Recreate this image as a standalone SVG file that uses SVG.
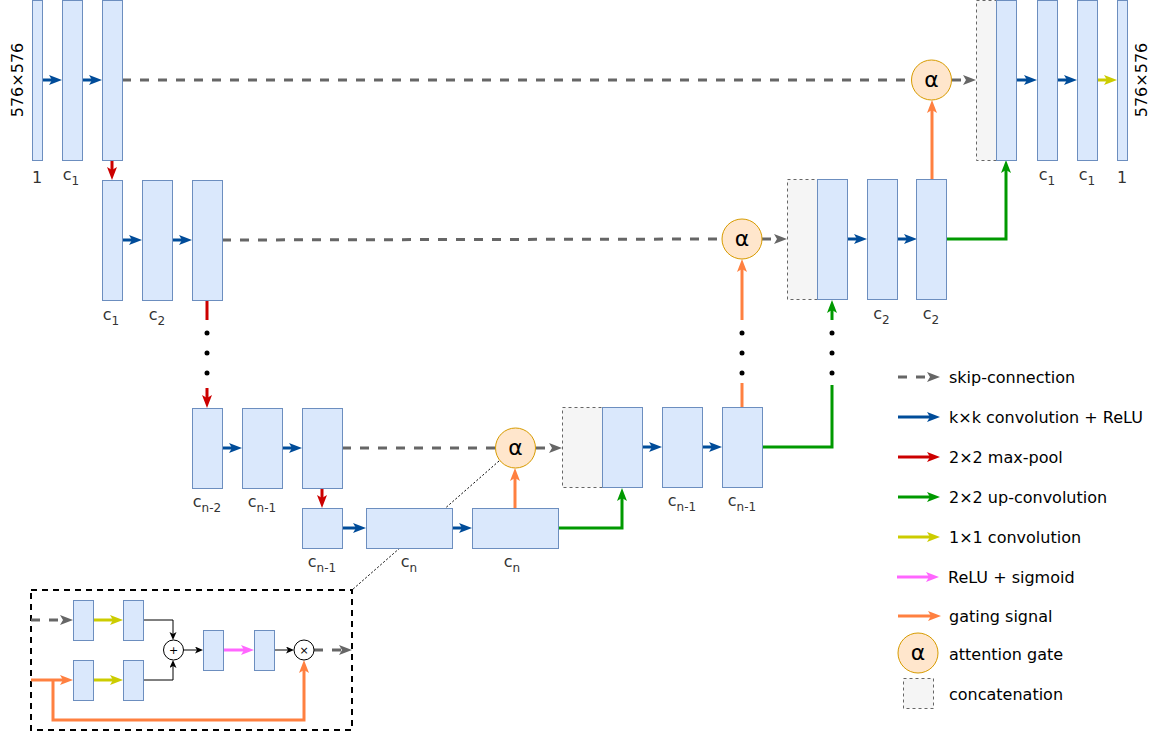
<svg xmlns="http://www.w3.org/2000/svg" width="1158" height="732" viewBox="0 0 1158 732">
<style>
.b{fill:#dae8fc;stroke:#6c8ebf;stroke-width:1}
.cc{fill:#f5f5f5;stroke:#666;stroke-width:1;stroke-dasharray:3 3}
.ag{fill:#ffe6cc;stroke:#d79b00;stroke-width:1}
.at{font-family:"DejaVu Sans",Verdana,sans-serif;font-size:22px;fill:#000;text-anchor:middle}
.lb{font-family:"DejaVu Sans",Verdana,sans-serif;font-size:16px;fill:#333;text-anchor:middle}
.lg{font-family:"DejaVu Sans",Verdana,sans-serif;font-size:16px;fill:#000}
.sub{font-size:12px}
.c{fill:none;stroke-width:3}
.blue{stroke:#004c99}
.red{stroke:#cc0000}
.green{stroke:#009900}
.yel{stroke:#cccc00}
.mag{stroke:#ff66ff}
.ora{stroke:#ff8040}
.gray{stroke:#666;stroke-dasharray:9 9}
.blk{fill:none;stroke:#000;stroke-width:1}
.dot{fill:#000}
</style>
<defs>
<marker id="mb" markerUnits="userSpaceOnUse" markerWidth="14" markerHeight="11" refX="3" refY="5" orient="auto"><path d="M0,0 L13,5 L0,10 L3,5 z" fill="#004c99"/></marker>
<marker id="mr" markerUnits="userSpaceOnUse" markerWidth="14" markerHeight="11" refX="3" refY="5" orient="auto"><path d="M0,0 L13,5 L0,10 L3,5 z" fill="#cc0000"/></marker>
<marker id="mg" markerUnits="userSpaceOnUse" markerWidth="14" markerHeight="11" refX="3" refY="5" orient="auto"><path d="M0,0 L13,5 L0,10 L3,5 z" fill="#009900"/></marker>
<marker id="my" markerUnits="userSpaceOnUse" markerWidth="14" markerHeight="11" refX="3" refY="5" orient="auto"><path d="M0,0 L13,5 L0,10 L3,5 z" fill="#cccc00"/></marker>
<marker id="mm" markerUnits="userSpaceOnUse" markerWidth="14" markerHeight="11" refX="3" refY="5" orient="auto"><path d="M0,0 L13,5 L0,10 L3,5 z" fill="#ff66ff"/></marker>
<marker id="mo" markerUnits="userSpaceOnUse" markerWidth="14" markerHeight="11" refX="3" refY="5" orient="auto"><path d="M0,0 L13,5 L0,10 L3,5 z" fill="#ff8040"/></marker>
<marker id="mgr" markerUnits="userSpaceOnUse" markerWidth="14" markerHeight="11" refX="3" refY="5" orient="auto"><path d="M0,0 L13,5 L0,10 L3,5 z" fill="#666"/></marker>
<marker id="mk" markerUnits="userSpaceOnUse" markerWidth="9" markerHeight="8" refX="2" refY="3.5" orient="auto"><path d="M0,0 L8,3.5 L0,7 L2,3.5 z" fill="#000"/></marker>
</defs>

<g id="connectors">
<!-- row 1 -->
<path class="c blue" d="M42,80 H52" marker-end="url(#mb)"/>
<path class="c blue" d="M82,80 H92" marker-end="url(#mb)"/>
<path class="c red" d="M112,160 V170" marker-end="url(#mr)"/>
<path class="c gray" d="M122,80 H911"/>
<path class="c gray" d="M952,80 H966" marker-end="url(#mgr)"/>
<path class="c blue" d="M1017,80 H1027" marker-end="url(#mb)"/>
<path class="c blue" d="M1057,80 H1067" marker-end="url(#mb)"/>
<path class="c yel" d="M1097,80 H1107" marker-end="url(#my)"/>
<path class="c ora" d="M932,180 V110" marker-end="url(#mo)"/>
<path class="c green" d="M947,239 H1006 V170" marker-end="url(#mg)"/>
<!-- row 2 -->
<path class="c blue" d="M122,240 H132" marker-end="url(#mb)"/>
<path class="c blue" d="M172,240 H182" marker-end="url(#mb)"/>
<path class="c gray" d="M222,240 L722,239"/>
<path class="c gray" d="M762,239 H777" marker-end="url(#mgr)"/>
<path class="c blue" d="M847,239 H857" marker-end="url(#mb)"/>
<path class="c blue" d="M897,239 H907" marker-end="url(#mb)"/>
<path class="c red" d="M207,300 V320"/>
<path class="c red" d="M207,388 V398" marker-end="url(#mr)"/>
<path class="c ora" d="M742,320 V269" marker-end="url(#mo)"/>
<path class="c ora" d="M742,407 V383"/>
<path class="c green" d="M832,320 V310" marker-end="url(#mg)"/>
<path class="c green" d="M762,447 H832 V385"/>
<!-- row 3 -->
<path class="c blue" d="M222,448 H232" marker-end="url(#mb)"/>
<path class="c blue" d="M282,448 H292" marker-end="url(#mb)"/>
<path class="c red" d="M322,488 V498" marker-end="url(#mr)"/>
<path class="c gray" d="M342,448 H496"/>
<path class="c gray" d="M536,448 H552" marker-end="url(#mgr)"/>
<path class="c blue" d="M642,447 H652" marker-end="url(#mb)"/>
<path class="c blue" d="M702,447 H712" marker-end="url(#mb)"/>
<!-- row 4 -->
<path class="c blue" d="M342,528 H356" marker-end="url(#mb)"/>
<path class="c blue" d="M452,528 H462" marker-end="url(#mb)"/>
<path class="c ora" d="M515,508 V478" marker-end="url(#mo)"/>
<path class="c green" d="M558,528 H622 V498" marker-end="url(#mg)"/>
<!-- zoom line -->
<path d="M499,461 L352,590" fill="none" stroke="#000" stroke-width="1" stroke-dasharray="2 2"/>
</g>

<g id="dots">
<circle class="dot" cx="207" cy="333" r="2.5"/><circle class="dot" cx="207" cy="353" r="2.5"/><circle class="dot" cx="207" cy="373" r="2.5"/>
<circle class="dot" cx="742" cy="333" r="2.5"/><circle class="dot" cx="742" cy="353" r="2.5"/><circle class="dot" cx="742" cy="373" r="2.5"/>
<circle class="dot" cx="832" cy="333" r="2.5"/><circle class="dot" cx="832" cy="353" r="2.5"/><circle class="dot" cx="832" cy="373" r="2.5"/>
</g>

<!-- row 1 nodes -->
<g id="n1a"><rect class="b" x="32.5" y="0.5" width="10" height="160"/><text class="lb" x="37" y="183">1</text></g>
<g id="n1b"><rect class="b" x="62.5" y="0.5" width="20" height="160"/><text class="lb" x="71" y="180">c<tspan class="sub" dy="5">1</tspan></text></g>
<g id="n1c"><rect class="b" x="102.5" y="0.5" width="20" height="160"/></g>
<g id="in1"><text class="lb" transform="translate(23,80) rotate(-90)" style="fill:#000">576×576</text></g>
<g id="cat1"><rect class="cc" x="976.5" y="0.5" width="20" height="160"/></g>
<g id="n1d"><rect class="b" x="996.5" y="0.5" width="20" height="160"/></g>
<g id="n1e"><rect class="b" x="1037.5" y="0.5" width="20" height="160"/><text class="lb" x="1047" y="180">c<tspan class="sub" dy="5">1</tspan></text></g>
<g id="n1f"><rect class="b" x="1077.5" y="0.5" width="20" height="160"/><text class="lb" x="1087" y="180">c<tspan class="sub" dy="5">1</tspan></text></g>
<g id="n1g"><rect class="b" x="1117.5" y="0.5" width="10" height="160"/><text class="lb" x="1122" y="183">1</text></g>
<g id="out1"><text class="lb" transform="translate(1147,80) rotate(-90)" style="fill:#000">576×576</text></g>
<g id="ag1"><circle class="ag" cx="931.5" cy="80" r="20"/><text class="at" x="931.5" y="87">α</text></g>

<!-- row 2 nodes -->
<g id="n2a"><rect class="b" x="102.5" y="180.5" width="20" height="120"/><text class="lb" x="111" y="320">c<tspan class="sub" dy="5">1</tspan></text></g>
<g id="n2b"><rect class="b" x="142.5" y="180.5" width="30" height="120"/><text class="lb" x="157" y="320">c<tspan class="sub" dy="5">2</tspan></text></g>
<g id="n2c"><rect class="b" x="192.5" y="180.5" width="30" height="120"/></g>
<g id="ag2"><circle class="ag" cx="742" cy="239" r="20"/><text class="at" x="742" y="246">α</text></g>
<g id="cat2"><rect class="cc" x="787.5" y="179.5" width="30" height="120"/></g>
<g id="n2d"><rect class="b" x="817.5" y="179.5" width="30" height="120"/></g>
<g id="n2e"><rect class="b" x="867.5" y="179.5" width="30" height="120"/><text class="lb" x="881.5" y="319">c<tspan class="sub" dy="5">2</tspan></text></g>
<g id="n2f"><rect class="b" x="916.5" y="179.5" width="30" height="120"/><text class="lb" x="931" y="319">c<tspan class="sub" dy="5">2</tspan></text></g>

<!-- row 3 nodes -->
<g id="n3a"><rect class="b" x="192.5" y="408.5" width="30" height="80"/><text class="lb" x="207" y="507">c<tspan class="sub" dy="5">n-2</tspan></text></g>
<g id="n3b"><rect class="b" x="242.5" y="408.5" width="40" height="80"/><text class="lb" x="262" y="507">c<tspan class="sub" dy="5">n-1</tspan></text></g>
<g id="n3c"><rect class="b" x="302.5" y="408.5" width="40" height="80"/></g>
<g id="ag3"><circle class="ag" cx="515.5" cy="448" r="20"/><text class="at" x="515.5" y="455">α</text></g>
<g id="cat3"><rect class="cc" x="562.5" y="407.5" width="40" height="80"/></g>
<g id="n3d"><rect class="b" x="602.5" y="407.5" width="40" height="80"/></g>
<g id="n3e"><rect class="b" x="662.5" y="407.5" width="40" height="80"/><text class="lb" x="682" y="506">c<tspan class="sub" dy="5">n-1</tspan></text></g>
<g id="n3f"><rect class="b" x="722.5" y="407.5" width="40" height="80"/><text class="lb" x="742" y="506">c<tspan class="sub" dy="5">n-1</tspan></text></g>

<!-- row 4 nodes -->
<g id="n4a"><rect class="b" x="302.5" y="508.5" width="40" height="40"/><text class="lb" x="322" y="567">c<tspan class="sub" dy="5">n-1</tspan></text></g>
<g id="n4b"><rect class="b" x="366.5" y="508.5" width="86" height="40"/><text class="lb" x="409" y="567">c<tspan class="sub" dy="5">n</tspan></text></g>
<g id="n4c"><rect class="b" x="472.5" y="508.5" width="86" height="40"/><text class="lb" x="512" y="567">c<tspan class="sub" dy="5">n</tspan></text></g>

<!-- inset: attention gate detail -->
<g id="inset">
<rect x="31" y="590" width="321" height="140" fill="none" stroke="#000" stroke-width="2" stroke-dasharray="6 5"/>
<path class="c gray" d="M31,620 H63" marker-end="url(#mgr)"/>
<path class="c yel" d="M93,620 H113" marker-end="url(#my)"/>
<path class="c yel" d="M93,680 H113" marker-end="url(#my)"/>
<path class="blk" d="M143,620 H173 V634" marker-end="url(#mk)"/>
<path class="blk" d="M143,680 H173 V666" marker-end="url(#mk)"/>
<path class="blk" d="M183,650 H197" marker-end="url(#mk)"/>
<path class="c mag" d="M223,650 H244" marker-end="url(#mm)"/>
<path class="blk" d="M274,650 H288" marker-end="url(#mk)"/>
<path class="c gray" d="M314,650 H342" marker-end="url(#mgr)"/>
<path class="c ora" d="M31,680 H63" marker-end="url(#mo)"/>
<path class="c ora" d="M53,680 V720 H304 V670" marker-end="url(#mo)"/>
<rect class="b" x="73.5" y="600.5" width="20" height="40"/>
<rect class="b" x="123.5" y="600.5" width="20" height="40"/>
<rect class="b" x="73.5" y="660.5" width="20" height="40"/>
<rect class="b" x="123.5" y="660.5" width="20" height="40"/>
<rect class="b" x="203.5" y="630.5" width="20" height="40"/>
<rect class="b" x="254.5" y="630.5" width="20" height="40"/>
<circle cx="173.5" cy="650" r="10" fill="#fff" stroke="#000" stroke-width="1"/>
<text x="173.5" y="654" font-family="DejaVu Sans,sans-serif" font-size="11" text-anchor="middle">+</text>
<circle cx="304" cy="650" r="10" fill="#fff" stroke="#000" stroke-width="1"/>
<text x="304" y="654" font-family="DejaVu Sans,sans-serif" font-size="11" text-anchor="middle">×</text>
</g>

<!-- legend -->
<g id="legend">
<path class="c gray" d="M898,377 H930" marker-end="url(#mgr)"/>
<text class="lg" x="949" y="383">skip-connection</text>
<path class="c blue" d="M898,417 H930" marker-end="url(#mb)"/>
<text class="lg" x="949" y="423">k×k convolution + ReLU</text>
<path class="c red" d="M898,457 H930" marker-end="url(#mr)"/>
<text class="lg" x="949" y="463">2×2 max-pool</text>
<path class="c green" d="M898,497 H930" marker-end="url(#mg)"/>
<text class="lg" x="949" y="503">2×2 up-convolution</text>
<path class="c yel" d="M898,537 H930" marker-end="url(#my)"/>
<text class="lg" x="949" y="543">1×1 convolution</text>
<path class="c mag" d="M897,577 H929" marker-end="url(#mm)"/>
<text class="lg" x="948" y="583">ReLU + sigmoid</text>
<path class="c ora" d="M898,616 H931" marker-end="url(#mo)"/>
<text class="lg" x="949" y="622">gating signal</text>
<circle class="ag" cx="918" cy="653" r="20"/><text class="at" x="918" y="660">α</text>
<text class="lg" x="949" y="660">attention gate</text>
<rect class="cc" x="903.5" y="678.5" width="30" height="30"/>
<text class="lg" x="949" y="700">concatenation</text>
</g>
</svg>
